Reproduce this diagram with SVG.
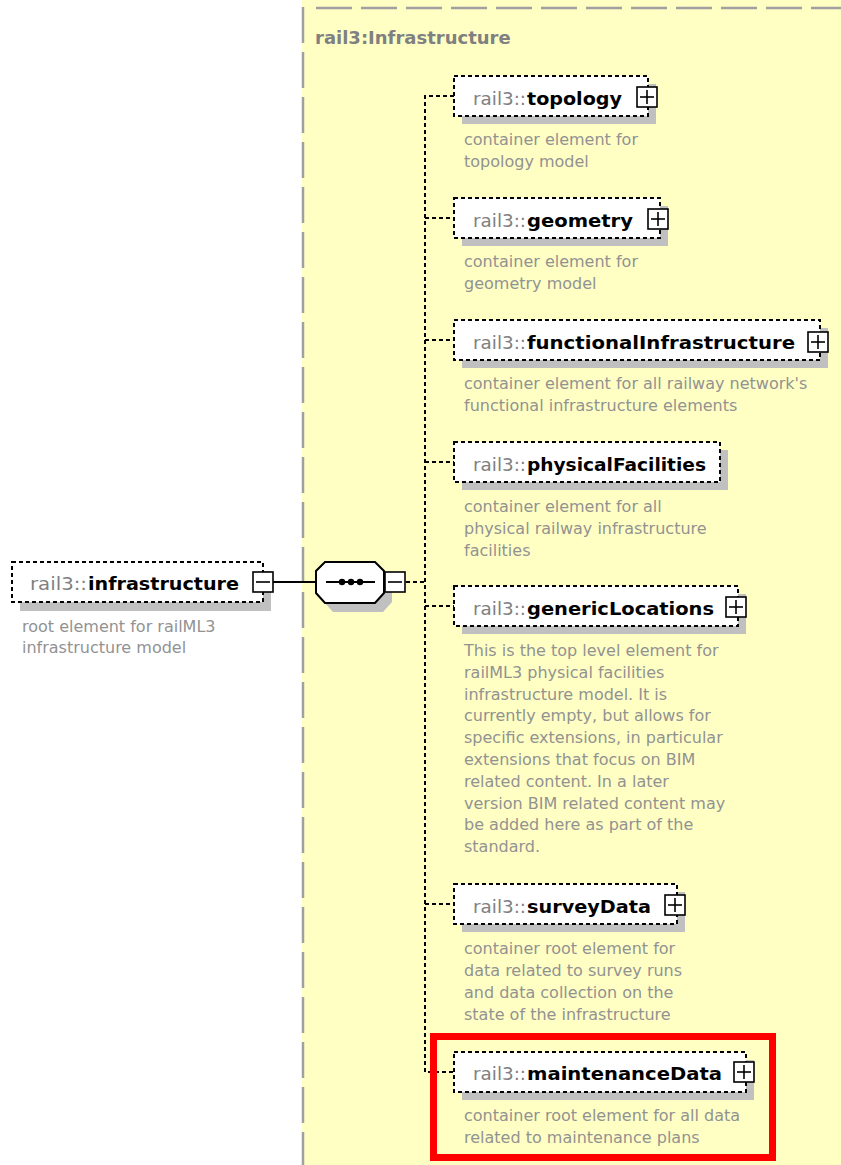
<svg xmlns="http://www.w3.org/2000/svg" width="841" height="1165" viewBox="0 0 841 1165">
<defs>
<style>
.bg{fill:#FFFFC4}
.frame{stroke:#a0a0a0;stroke-width:2.5;stroke-dasharray:36 9;fill:none}
.box{fill:#fff;stroke:#000;stroke-width:2;stroke-dasharray:4 3}
.shadow{fill:#c0c0c0}
.pre{font-family:"DejaVu Sans",sans-serif;font-size:18px;fill:#808080}
.nm{font-family:"DejaVu Sans",sans-serif;font-size:18px;font-weight:bold;fill:#000}
.desc{font-family:"DejaVu Sans",sans-serif;font-size:16px;fill:#929292}
.title{font-family:"DejaVu Sans",sans-serif;font-size:18px;font-weight:bold;fill:#808080}
.conn{stroke:#000;stroke-width:2;fill:none;stroke-dasharray:4 3}
.solid{stroke:#000;stroke-width:2;fill:none}
.icon{fill:#fff;stroke:#000;stroke-width:1.6}
.ln{stroke:#000;stroke-width:1.6}
</style>
<g id="plus"><rect class="icon" x="-10" y="-10" width="20" height="20"/><line class="ln" x1="-7" y1="0" x2="7" y2="0"/><line class="ln" x1="0" y1="-7" x2="0" y2="7"/></g>
<g id="minus"><rect class="icon" x="-10" y="-10" width="20" height="20"/><line class="ln" x1="-7" y1="0" x2="7" y2="0"/></g>
</defs>
<rect x="0" y="0" width="841" height="1165" fill="#fff"/>
<rect class="bg" x="302" y="0" width="539" height="1165"/>
<line class="frame" x1="303" y1="7" x2="303" y2="1165"/>
<line class="frame" x1="316" y1="8" x2="841" y2="8"/>
<text class="title" x="315" y="44">rail3:Infrastructure</text>

<g id="connectors">
<line class="solid" x1="273" y1="582" x2="316" y2="582"/>
<line class="conn" x1="406" y1="582" x2="425" y2="582"/>
<polyline class="conn" points="454,96 425,96 425,1072 454,1072"/>
<line class="conn" x1="425" y1="218" x2="454" y2="218"/>
<line class="conn" x1="425" y1="340" x2="454" y2="340"/>
<line class="conn" x1="425" y1="462" x2="454" y2="462"/>
<line class="conn" x1="425" y1="606" x2="454" y2="606"/>
<line class="conn" x1="425" y1="904" x2="454" y2="904"/>
</g>

<g id="infrastructure">
<rect class="shadow" x="20" y="571" width="251" height="40"/>
<rect class="box" x="12" y="562" width="251" height="40"/>
<text class="pre" x="30" y="590" textLength="57" lengthAdjust="spacingAndGlyphs">rail3::</text>
<text class="nm" x="88" y="590" textLength="151" lengthAdjust="spacingAndGlyphs">infrastructure</text>
<use href="#minus" x="263" y="582"/>
<text class="desc" x="22" y="632">root element for railML3</text>
<text class="desc" x="22" y="653">infrastructure model</text>
</g>

<g id="sequence">
<polygon class="shadow" points="333,571 383,571 392,580 392,602 383,612 333,612 324,602 324,580"/>
<polygon fill="#fff" stroke="#000" stroke-width="2" points="325,562 375,562 384,571 384,593 375,603 325,603 316,593 316,571"/>
<line class="solid" x1="326" y1="582" x2="375" y2="582"/>
<circle cx="342" cy="582" r="3.2"/>
<circle cx="351" cy="582" r="3.2"/>
<circle cx="360" cy="582" r="3.2"/>
<use href="#minus" x="395" y="582"/>
</g>

<g id="topology">
<rect class="shadow" x="462" y="84" width="194" height="40"/>
<rect class="box" x="454" y="76" width="194" height="40"/>
<text class="pre" x="473" y="105" textLength="53" lengthAdjust="spacingAndGlyphs">rail3::</text>
<text class="nm" x="527" y="105" textLength="95" lengthAdjust="spacingAndGlyphs">topology</text>
<use href="#plus" x="647" y="97"/>
<text class="desc" x="464" y="145">container element for</text>
<text class="desc" x="464" y="167">topology model</text>
</g>

<g id="geometry">
<rect class="shadow" x="462" y="206" width="206" height="40"/>
<rect class="box" x="454" y="198" width="206" height="40"/>
<text class="pre" x="473" y="227" textLength="53" lengthAdjust="spacingAndGlyphs">rail3::</text>
<text class="nm" x="527" y="227" textLength="106" lengthAdjust="spacingAndGlyphs">geometry</text>
<use href="#plus" x="658" y="219"/>
<text class="desc" x="464" y="267">container element for</text>
<text class="desc" x="464" y="289">geometry model</text>
</g>

<g id="functionalInfrastructure">
<rect class="shadow" x="462" y="328" width="366" height="40"/>
<rect class="box" x="454" y="320" width="366" height="40"/>
<text class="pre" x="473" y="349" textLength="53" lengthAdjust="spacingAndGlyphs">rail3::</text>
<text class="nm" x="527" y="349" textLength="268" lengthAdjust="spacingAndGlyphs">functionalInfrastructure</text>
<use href="#plus" x="818" y="342"/>
<text class="desc" x="464" y="389">container element for all railway network's</text>
<text class="desc" x="464" y="411">functional infrastructure elements</text>
</g>

<g id="physicalFacilities">
<rect class="shadow" x="462" y="450" width="266" height="40"/>
<rect class="box" x="454" y="442" width="266" height="40"/>
<text class="pre" x="473" y="471" textLength="53" lengthAdjust="spacingAndGlyphs">rail3::</text>
<text class="nm" x="527" y="471" textLength="179" lengthAdjust="spacingAndGlyphs">physicalFacilities</text>
<text class="desc" x="464" y="512">container element for all</text>
<text class="desc" x="464" y="534">physical railway infrastructure</text>
<text class="desc" x="464" y="556">facilities</text>
</g>

<g id="genericLocations">
<rect class="shadow" x="462" y="594" width="284" height="40"/>
<rect class="box" x="454" y="586" width="284" height="40"/>
<text class="pre" x="473" y="615" textLength="53" lengthAdjust="spacingAndGlyphs">rail3::</text>
<text class="nm" x="527" y="615" textLength="187" lengthAdjust="spacingAndGlyphs">genericLocations</text>
<use href="#plus" x="736" y="607"/>
<text class="desc" x="464" y="656">This is the top level element for</text>
<text class="desc" x="464" y="678">railML3 physical facilities</text>
<text class="desc" x="464" y="700">infrastructure model. It is</text>
<text class="desc" x="464" y="721">currently empty, but allows for</text>
<text class="desc" x="464" y="743">specific extensions, in particular</text>
<text class="desc" x="464" y="765">extensions that focus on BIM</text>
<text class="desc" x="464" y="787">related content. In a later</text>
<text class="desc" x="464" y="809">version BIM related content may</text>
<text class="desc" x="464" y="830">be added here as part of the</text>
<text class="desc" x="464" y="852">standard.</text>
</g>

<g id="surveyData">
<rect class="shadow" x="462" y="892" width="223" height="40"/>
<rect class="box" x="454" y="884" width="223" height="40"/>
<text class="pre" x="473" y="913" textLength="53" lengthAdjust="spacingAndGlyphs">rail3::</text>
<text class="nm" x="527" y="913" textLength="124" lengthAdjust="spacingAndGlyphs">surveyData</text>
<use href="#plus" x="675" y="905"/>
<text class="desc" x="464" y="954">container root element for</text>
<text class="desc" x="464" y="976">data related to survey runs</text>
<text class="desc" x="464" y="998">and data collection on the</text>
<text class="desc" x="464" y="1020">state of the infrastructure</text>
</g>

<g id="maintenanceData">
<rect class="shadow" x="462" y="1060" width="292" height="40"/>
<rect class="box" x="454" y="1052" width="292" height="40"/>
<text class="pre" x="473" y="1080" textLength="53" lengthAdjust="spacingAndGlyphs">rail3::</text>
<text class="nm" x="527" y="1080" textLength="195" lengthAdjust="spacingAndGlyphs">maintenanceData</text>
<use href="#plus" x="744" y="1072"/>
<text class="desc" x="464" y="1121">container root element for all data</text>
<text class="desc" x="464" y="1143">related to maintenance plans</text>
</g>

<rect x="433.5" y="1036.5" width="339" height="121" fill="none" stroke="#ff0000" stroke-width="7"/>
</svg>
